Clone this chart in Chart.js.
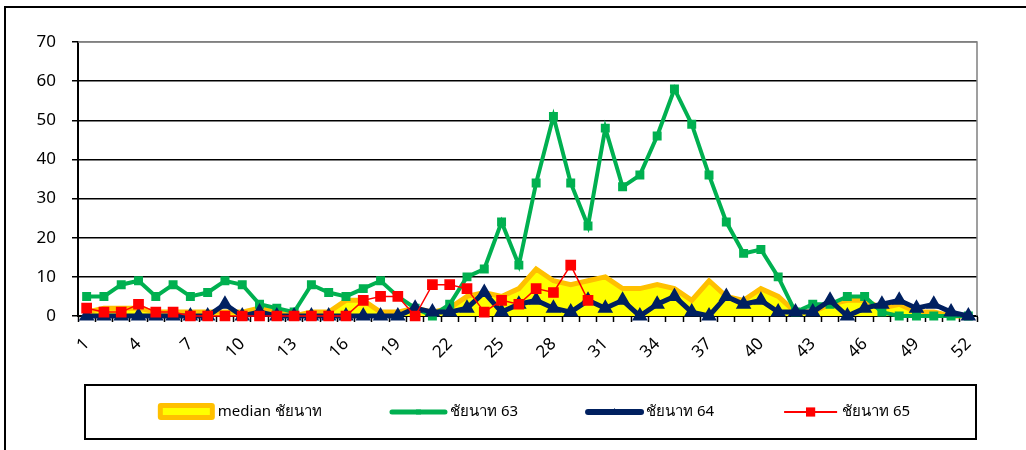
<!DOCTYPE html>
<html>
<head>
<meta charset="utf-8">
<script src="https://cdn.jsdelivr.net/npm/chart.js@4"></script>
<style>
  html, body { margin: 0; padding: 0; background: #fff; }
</style>
</head>
<body>
<canvas id="weeklyChart" width="1026" height="450"></canvas>
<script>
// week numbers (x axis)
const weeks = ['1', '2', '3', '4', '5', '6', '7', '8', '9', '10', '11', '12', '13',
  '14', '15', '16', '17', '18', '19', '20', '21', '22', '23', '24', '25', '26',
  '27', '28', '29', '30', '31', '32', '33', '34', '35', '36', '37', '38', '39',
  '40', '41', '42', '43', '44', '45', '46', '47', '48', '49', '50', '51', '52'];

const medianChainat = [1, 2, 2, 2, 1, 1, 1, 1, 1, 1, 2, 1, 0, 1, 1, 4, 4, 1, 1, 2,
  1, 2, 5, 6, 5, 7, 12, 9, 8, 9, 10, 7, 7, 8, 7, 4, 9, 5, 4, 7,
  5, 1, 1, 3, 4, 4, 2, 3, 1, 1, 0, 0];

const chainat63 = [5, 5, 8, 9, 5, 8, 5, 6, 9, 8, 3, 2, 1, 8, 6, 5, 7, 9, 5, 2,
  0, 3, 10, 12, 24, 13, 34, 51, 34, 23, 48, 33, 36, 46, 58, 49, 36, 24, 16, 17,
  10, 1, 3, 3, 5, 5, 1, 0, 0, 0, 0, 0];

const chainat64 = [0, 0, 0, 0, 0, 0, 0, 0, 3, 0, 1, 0, 0, 0, 0, 0, 0, 0, 0, 2,
  1, 1, 2, 6, 1, 3, 4, 2, 1, 4, 2, 4, 0, 3, 5, 1, 0, 5, 3, 4,
  1, 1, 1, 4, 0, 2, 3, 4, 2, 3, 1, 0];

// only up to week 30
const chainat65 = [2, 1, 1, 3, 1, 1, 0, 0, 0, 0, 0, 0, 0, 0, 0, 0, 4, 5, 5, 0,
  8, 8, 7, 1, 4, 3, 7, 6, 13, 4];

const seriesNames = ['median ชัยนาท', 'ชัยนาท 63', 'ชัยนาท 64', 'ชัยนาท 65'];

const fontFamily = '"Noto Sans", "DejaVu Sans", sans-serif';

// frame, plot border and the boxed legend under the chart
const frameLegend = {
    id: 'frameLegend',
    afterDraw(chart) {
        const ctx = chart.ctx;
        const area = chart.chartArea;
        ctx.save();

        ctx.strokeStyle = '#808080';
        ctx.lineWidth = 1.5;
        ctx.beginPath();
        ctx.moveTo(area.left, area.top);
        ctx.lineTo(area.right, area.top);
        ctx.lineTo(area.right, area.bottom);
        ctx.stroke();

        ctx.strokeStyle = '#000';
        ctx.lineWidth = 2;
        ctx.beginPath();
        ctx.moveTo(5, 470);
        ctx.lineTo(5, 7);
        ctx.lineTo(1040, 7);
        ctx.stroke();

        ctx.strokeRect(85, 385, 891, 54);

        ctx.font = '15px ' + fontFamily;
        ctx.textBaseline = 'middle';
        ctx.fillStyle = '#000';
        const sampleW = 57, textGap = 3, itemGap = 68, cy = 412;
        const widths = seriesNames.map(n => sampleW + textGap + ctx.measureText(n).width);
        const total = widths.reduce((a, b) => a + b, 0) + itemGap * (seriesNames.length - 1);
        let x = 534 - total / 2;

        chart.data.datasets.forEach((ds, i) => {
            ctx.save();
            if (i === 0) {
                ctx.fillStyle = '#FFC000';
                ctx.beginPath();
                ctx.roundRect(x, cy - 9, sampleW, 17, 3);
                ctx.fill();
                ctx.fillStyle = '#FFFF00';
                ctx.fillRect(x + 5, cy - 4, sampleW - 10, 7);
            } else {
                ctx.strokeStyle = ds.borderColor;
                ctx.lineWidth = i === 3 ? 2 : (i === 2 ? 6 : 5);
                ctx.lineCap = i === 3 ? 'butt' : 'round';
                ctx.beginPath();
                ctx.moveTo(x + 2, cy);
                ctx.lineTo(x + sampleW - 2, cy);
                ctx.stroke();
                ctx.fillStyle = ds.borderColor;
                Chart.helpers.drawPoint(ctx, {
                    pointStyle: ds.pointStyle,
                    radius: ds.pointRadius,
                    rotation: 0,
                    borderWidth: 0
                }, x + sampleW / 2, cy);
            }
            ctx.restore();
            ctx.fillText(seriesNames[i], x + sampleW + textGap, cy);
            x += widths[i] + itemGap;
        });
        ctx.restore();
    }
};

const ctx = document.getElementById('weeklyChart').getContext('2d');
const chart = new Chart(ctx, {
    type: 'line',
    data: {
        labels: weeks,
        datasets: [{
            label: seriesNames[0],
            data: medianChainat,
            borderColor: '#FFC000',
            backgroundColor: '#FFFF00',
            borderWidth: 5,
            fill: 'origin',
            pointRadius: 0,
            order: 4
        }, {
            label: seriesNames[1],
            data: chainat63,
            borderColor: '#00B050',
            backgroundColor: '#00B050',
            borderWidth: 4,
            pointStyle: 'rect',
            pointRadius: 3.5,
            order: 3
        }, {
            label: seriesNames[2],
            data: chainat64,
            borderColor: '#002060',
            backgroundColor: '#002060',
            borderWidth: 5,
            pointStyle: 'triangle',
            pointRadius: 4,
            order: 2
        }, {
            label: seriesNames[3],
            data: chainat65,
            borderColor: '#FF0000',
            backgroundColor: '#FF0000',
            borderWidth: 1.5,
            pointStyle: 'rect',
            pointRadius: 6.5,
            order: 1
        }]
    },
    options: {
        responsive: false,
        animation: false,
        clip: false,
        elements: {
            line: { tension: 0 },
            point: { borderWidth: 0, hoverRadius: 0 }
        },
        layout: { padding: { left: 18, right: 49, top: 42, bottom: 0 } },
        plugins: {
            legend: { display: false },
            tooltip: { enabled: false }
        },
        scales: {
            x: {
                offset: true,
                afterFit: (scale) => { scale.height = 134; },
                grid: {
                    offset: true,
                    drawOnChartArea: false,
                    tickLength: 6,
                    tickColor: '#000',
                    tickWidth: 1.5
                },
                border: { color: '#000', width: 2 },
                ticks: {
                    autoSkip: false,
                    minRotation: 45,
                    maxRotation: 45,
                    padding: 12,
                    color: '#000',
                    font: { family: fontFamily, size: 17 },
                    callback: function (val, idx) {
                        return idx % 3 === 0 ? this.getLabelForValue(val) : '';
                    }
                }
            },
            y: {
                min: 0,
                max: 70,
                afterFit: (scale) => { scale.width = 60; },
                grid: {
                    color: (c) => c.tick && c.tick.value === 70 ? '#808080' : '#000',
                    lineWidth: 1.5,
                    tickLength: 6,
                    tickColor: '#000'
                },
                border: { color: '#000', width: 2 },
                ticks: {
                    stepSize: 10,
                    padding: 16,
                    color: '#000',
                    font: { family: fontFamily, size: 17 }
                }
            }
        }
    },
    plugins: [frameLegend]
});
</script>
</body>
</html>
